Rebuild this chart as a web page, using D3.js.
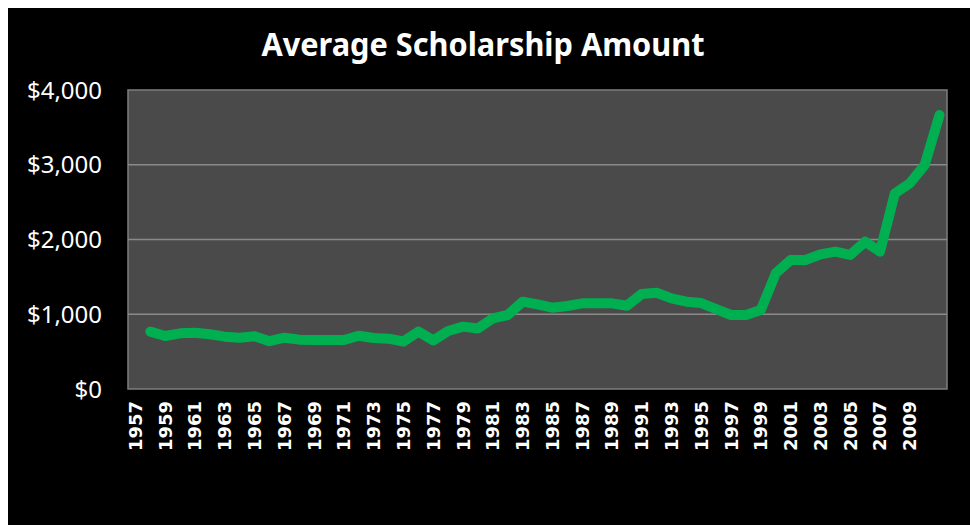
<!DOCTYPE html>
<html>
<head>
<meta charset="utf-8">
<script src="https://cdn.jsdelivr.net/npm/d3@7"></script>
<style>
  html, body { margin: 0; padding: 0; background: #fff; }
  svg { display: block; }
</style>
</head>
<body>
<svg id="chart" width="971" height="525"></svg>
<script>
// data
const title = "Average Scholarship Amount";
const years = [
  1957, 1958, 1959, 1960, 1961, 1962, 1963, 1964, 1965, 1966,
  1967, 1968, 1969, 1970, 1971, 1972, 1973, 1974, 1975, 1976,
  1977, 1978, 1979, 1980, 1981, 1982, 1983, 1984, 1985, 1986,
  1987, 1988, 1989, 1990, 1991, 1992, 1993, 1994, 1995, 1996,
  1997, 1998, 1999, 2000, 2001, 2002, 2003, 2004, 2005, 2006,
  2007, 2008, 2009, 2010, 2011
];
const amounts = [
  null, 767, 709, 745, 753, 732, 700, 686, 705, 640,
  686, 660, 656, 656, 656, 713, 682, 673, 635, 767,
  650, 775, 834, 810, 946, 990, 1168, 1133, 1088, 1110,
  1146, 1146, 1146, 1114, 1271, 1288, 1213, 1168, 1150, 1070,
  990, 990, 1057, 1548, 1726, 1726, 1802, 1837, 1793, 1971,
  1837, 2618, 2752, 2997, 3666
];
const yTicks = [0, 1000, 2000, 3000, 4000];
const xTickLabels = [
  1957, 1959, 1961, 1963, 1965, 1967, 1969, 1971, 1973, 1975,
  1977, 1979, 1981, 1983, 1985, 1987, 1989, 1991, 1993, 1995,
  1997, 1999, 2001, 2003, 2005, 2007, 2009
];

// layout
const svg = d3.select("#chart");
const plot = { left: 128, right: 947, top: 90, bottom: 389 };

// black frame
svg.append("rect")
  .attr("x", 8).attr("y", 8)
  .attr("width", 962).attr("height", 517)
  .attr("fill", "#000");

// scales
const x = d3.scaleBand()
  .domain(years)
  .range([plot.left, plot.right])
  .padding(0);
const y = d3.scaleLinear()
  .domain([0, 4000])
  .range([plot.bottom, plot.top]);
const cx = d => x(d) + x.bandwidth() / 2;

// plot area
svg.append("rect")
  .attr("x", plot.left).attr("y", plot.top)
  .attr("width", plot.right - plot.left)
  .attr("height", plot.bottom - plot.top)
  .attr("fill", "#4a4a4a")
  .attr("stroke", "#7f7f7f")
  .attr("stroke-width", 1.5);

// gridlines
svg.append("g")
  .selectAll("line")
  .data(yTicks.filter(d => d > 0 && d < 4000))
  .join("line")
    .attr("x1", plot.left).attr("x2", plot.right)
    .attr("y1", d => y(d)).attr("y2", d => y(d))
    .attr("stroke", "#8a8a8a")
    .attr("stroke-width", 1.5);

// y labels
const fmt = d3.format(",");
svg.append("g")
  .selectAll("text")
  .data(yTicks)
  .join("text")
    .attr("x", 102)
    .attr("y", d => y(d))
    .attr("dy", "0.36em")
    .attr("text-anchor", "end")
    .attr("fill", "#fff")
    .style("font-family", "'Noto Sans', sans-serif")
    .style("font-size", "24px")
    .text(d => "$" + fmt(d));

// x labels, rotated
svg.append("g")
  .selectAll("text")
  .data(xTickLabels)
  .join("text")
    .attr("transform", d => `translate(${cx(d)},401) rotate(-90)`)
    .attr("dy", "0.36em")
    .attr("text-anchor", "end")
    .attr("fill", "#fff")
    .style("font-family", "'DejaVu Sans', sans-serif")
    .style("font-weight", "bold")
    .style("font-size", "18px")
    .text(d => d);

// line
const line = d3.line()
  .defined(d => d.v != null)
  .x(d => cx(d.yr))
  .y(d => y(d.v));

svg.append("path")
  .datum(years.map((yr, i) => ({ yr, v: amounts[i] })))
  .attr("d", line)
  .attr("fill", "none")
  .attr("stroke", "#00b050")
  .attr("stroke-width", 10)
  .attr("stroke-linejoin", "round")
  .attr("stroke-linecap", "round");

// title
svg.append("text")
  .attr("x", 483)
  .attr("y", 56)
  .attr("text-anchor", "middle")
  .attr("fill", "#fff")
  .attr("textLength", 443)
  .attr("lengthAdjust", "spacingAndGlyphs")
  .style("font-family", "'Noto Sans', sans-serif")
  .style("font-weight", "bold")
  .style("font-size", "33px")
  .text(title);
</script>
</body>
</html>
